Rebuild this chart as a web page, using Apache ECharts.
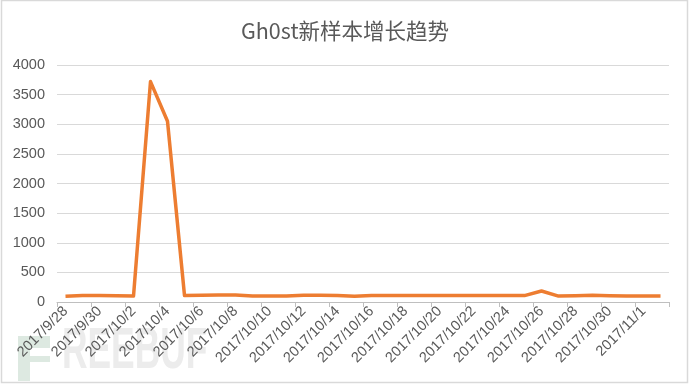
<!DOCTYPE html>
<html>
<head>
<meta charset="utf-8">
<script src="https://cdn.jsdelivr.net/npm/echarts@6/dist/echarts.min.js"></script>
<style>html,body{margin:0;padding:0;background:#fff}#c{width:690px;height:385px}</style>
</head>
<body>
<div id="c"></div>
<script>
const titleText = 'Gh0st新样本增长趋势';
const dates = ['2017/9/28','2017/9/29','2017/9/30','2017/10/1','2017/10/2','2017/10/3','2017/10/4','2017/10/5','2017/10/6','2017/10/7','2017/10/8','2017/10/9','2017/10/10','2017/10/11','2017/10/12','2017/10/13','2017/10/14','2017/10/15','2017/10/16','2017/10/17','2017/10/18','2017/10/19','2017/10/20','2017/10/21','2017/10/22','2017/10/23','2017/10/24','2017/10/25','2017/10/26','2017/10/27','2017/10/28','2017/10/29','2017/10/30','2017/10/31','2017/11/1','2017/11/2'];
const counts = [95,110,110,105,100,3720,3050,110,112,118,118,100,100,100,112,115,110,95,108,108,108,108,108,108,108,108,108,108,185,100,105,112,105,100,100,100];
const yTicks = {min:0, max:4000, interval:500};

const chart = echarts.init(document.getElementById('c'), null, {renderer:'canvas'});
chart.setOption({
  animation:false,
  backgroundColor:'#fff',
  title:{text:titleText,left:'center',top:15,textStyle:{fontFamily:'"Noto Sans CJK SC","Liberation Sans",sans-serif',fontSize:21.5,fontWeight:'normal',color:'#595959'}},
  graphic:[
    {type:'rect',shape:{x:1.5,y:0.5,width:686,height:382},style:{fill:'none',stroke:'#d9d9d9',lineWidth:1.5},z:-1},
    {type:'rect',shape:{x:18,y:336,width:32,height:45},style:{fill:'#dde9e1'},z:-1},
    {type:'rect',shape:{x:30,y:348,width:20,height:8},style:{fill:'#ffffff'},z:-1},
    {type:'rect',shape:{x:30,y:362,width:20,height:19},style:{fill:'#ffffff'},z:-1},
    {type:'text',x:62,y:381,scaleX:0.62,z:-1,style:{text:'REEBUF',x:0,y:0,verticalAlign:'bottom',font:'bold 57px "Liberation Sans",sans-serif',fill:'#ececec'}}
  ],
  grid:{left:57,right:21,top:65,bottom:83},
  xAxis:{type:'category',data:dates,boundaryGap:true,
    axisLine:{lineStyle:{color:'#bfbfbf',width:1}},
    axisTick:{show:true,interval:1,length:5,lineStyle:{color:'#bfbfbf'}},
    axisLabel:{interval:1,rotate:45,margin:7,fontSize:14.5,color:'#595959',fontFamily:'"Liberation Sans",sans-serif'}
  },
  yAxis:{type:'value',min:yTicks.min,max:yTicks.max,interval:yTicks.interval,
    axisLine:{show:false},axisTick:{show:false},
    splitLine:{lineStyle:{color:'#d9d9d9',width:1}},
    axisLabel:{margin:12,fontSize:14.5,color:'#595959',fontFamily:'"Liberation Sans",sans-serif',formatter:function(v){return String(v);}}
  },
  series:[{type:'line',data:counts,symbol:'none',lineStyle:{color:'#ED7D31',width:3.5,join:'round'},itemStyle:{color:'#ED7D31'}}]
});
</script>
</body>
</html>
